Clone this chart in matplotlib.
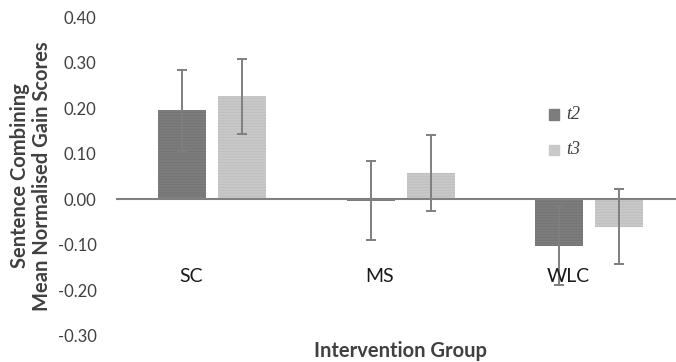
import matplotlib
matplotlib.use("Agg")
import matplotlib.pyplot as plt
import numpy as np

# data
groups = ["SC", "MS", "WLC"]
t2_mean = [0.195, -0.003, -0.102]
t2_err = [0.088, 0.086, 0.087]
t3_mean = [0.226, 0.058, -0.060]
t3_err = [0.082, 0.083, 0.083]
yticks = [0.40, 0.30, 0.20, 0.10, 0.00, -0.10, -0.20, -0.30]

C_T2 = "#7d7d7d"; C_T3 = "#c9c9c9"; C_ERR = "#7f7f7f"
plt.rcParams["font.family"] = ["Lato", "DejaVu Sans"]
plt.rcParams["hatch.linewidth"] = 0.6

fig = plt.figure(figsize=(6.76, 3.62), dpi=100)
ax = fig.add_axes([116 / 676, 26 / 362, 560 / 676, 319 / 362])

x = np.arange(len(groups))
w = 0.255; off = 0.159
ek = dict(ecolor=C_ERR, elinewidth=1.4, capsize=3.3, capthick=1.4)
ax.bar(x - off, t2_mean, w, color=C_T2, yerr=t2_err, error_kw=ek,
       hatch="------", edgecolor="#727272", linewidth=0, zorder=2)
ax.bar(x + off, t3_mean, w, color=C_T3, yerr=t3_err, error_kw=ek,
       hatch="------", edgecolor="#bdbdbd", linewidth=0, zorder=2)
ax.axhline(0, color="#808080", lw=1.5, zorder=3)

ax.set_xlim(-0.51, 2.46)
ax.set_ylim(-0.30, 0.40)
ax.set_yticks(yticks)
ax.set_yticklabels([f"{v:.2f}" for v in yticks], fontsize=12, color="#404040")
ax.tick_params(axis="y", length=0, pad=14)
ax.set_xticks([])
for s in ax.spines.values():
    s.set_visible(False)

# category labels sit inside the plot area, below the bars
for xi, g in zip(x, groups):
    ax.text(xi - 0.11, -0.17, g, ha="center", va="center", fontsize=14, color="#1a1a1a")

fig.text(400 / 676, 1 - 351 / 362, "Intervention Group", ha="center", va="center",
         fontsize=14.5, fontweight="bold", color="#404040")
fig.text(20 / 676, 1 - 176 / 362, "Sentence Combining", rotation=90, ha="center",
         va="center", fontsize=14.5, fontweight="bold", color="#404040")
fig.text(42 / 676, 1 - 176 / 362, "Mean Normalised Gain Scores", rotation=90, ha="center",
         va="center", fontsize=14.5, fontweight="bold", color="#404040")

# legend
for yy, c, lab in [(114.5, C_T2, "t2"), (149.5, C_T3, "t3")]:
    fig.patches.append(plt.Rectangle((549 / 676, 1 - (yy + 5) / 362), 10 / 676, 10 / 362,
                                     transform=fig.transFigure, color=c))
    fig.text(566 / 676, 1 - yy / 362, lab, ha="left", va="center", fontsize=13,
             family="Liberation Serif", style="italic", color="#404040")

fig.savefig("out.png", dpi=100)
